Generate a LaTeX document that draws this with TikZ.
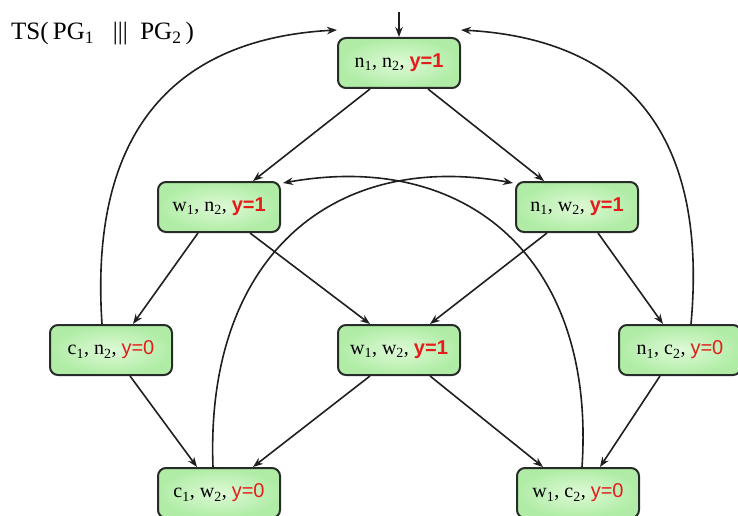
\documentclass[tikz,border=0pt]{standalone}
\usepackage{fontspec}
\setmainfont{Liberation Serif}
\newfontfamily\lblsans{Liberation Sans}
\usetikzlibrary{arrows.meta}
\definecolor{stategreen}{RGB}{176,236,166}
\definecolor{stategreenlight}{RGB}{222,250,214}
\definecolor{stateedge}{RGB}{40,44,40}
\definecolor{varred}{RGB}{228,28,28}
\newcommand{\yone}{{\lblsans\bfseries\color{varred}y=1}}
\newcommand{\yzero}{{\lblsans\color{varred}y=0}}
\newcommand{\ssub}[1]{\textsubscript{#1}}
\begin{document}
\begin{tikzpicture}[x=1pt,y=-1pt,
  state/.style={draw=stateedge, line width=2pt, rounded corners=8pt,
    inner color=stategreenlight, outer color=stategreen,
    minimum width=122pt, minimum height=50pt, inner sep=0pt,
    font=\fontsize{20}{24}\selectfont},
  trans/.style={-{Stealth[length=10pt,width=7.5pt]}, line width=1.6pt, black!88}]
\useasboundingbox (0,0) rectangle (738,516);

\node[anchor=base west, font=\fontsize{25}{30}\selectfont, inner sep=0pt] (title) at (11,40)
  {TS(\,PG\ssub{1} \ \ |||\ \ PG\ssub{2}\,)};

% states
\node[state] (n1n2) at (399,63)  {n\ssub{1}, n\ssub{2}, \yone};
\node[state] (w1n2) at (219,207) {w\ssub{1}, n\ssub{2}, \yone};
\node[state] (n1w2) at (577,207) {n\ssub{1}, w\ssub{2}, \yone};
\node[state] (c1n2) at (111,350) {c\ssub{1}, n\ssub{2}, \yzero};
\node[state] (w1w2) at (399,350) {w\ssub{1}, w\ssub{2}, \yone};
\node[state] (n1c2) at (680,350) {n\ssub{1}, c\ssub{2}, \yzero};
\node[state] (c1w2) at (219,493) {c\ssub{1}, w\ssub{2}, \yzero};
\node[state] (w1c2) at (578,493) {w\ssub{1}, c\ssub{2}, \yzero};

% initial state marker
\coordinate (init) at (399,12);
\draw[trans] (init) -- (n1n2.north);

% first steps
\draw[trans] ([xshift=-29pt]n1n2.south) -- ([xshift=34pt]w1n2.north);
\draw[trans] ([xshift=29pt]n1n2.south) -- ([xshift=-33pt]n1w2.north);

\draw[trans] ([xshift=-21pt]w1n2.south) -- ([xshift=22pt]c1n2.north);
\draw[trans] ([xshift=31pt]w1n2.south) -- ([xshift=-29pt]w1w2.north);
\draw[trans] ([xshift=-30pt]n1w2.south) -- ([xshift=31pt]w1w2.north);
\draw[trans] ([xshift=21pt]n1w2.south) -- ([xshift=-17pt]n1c2.north);

\draw[trans] ([xshift=19pt]c1n2.south) -- ([xshift=-22pt]c1w2.north);
\draw[trans] ([xshift=-29pt]w1w2.south) -- ([xshift=34pt]c1w2.north);
\draw[trans] ([xshift=31pt]w1w2.south) -- ([xshift=-35pt]w1c2.north);
\draw[trans] ([xshift=-20pt]n1c2.south) -- ([xshift=22pt]w1c2.north);

% leaving the critical sections
\draw[trans] ([xshift=-9pt]c1n2.north) .. controls (88,115) and (190,38) .. ([yshift=7pt]n1n2.north west);
\draw[trans] ([xshift=11pt]n1c2.north) .. controls (710,115) and (608,38) .. ([yshift=7pt]n1n2.north east);
\draw[trans] ([xshift=-6pt]c1w2.north) .. controls (205,260) and (330,150) .. ([xshift=-2pt,yshift=-2pt]n1w2.north west);
\draw[trans] ([xshift=4pt]w1c2.north) .. controls (596,260) and (468,150) .. ([xshift=2pt,yshift=-2pt]w1n2.north east);
\end{tikzpicture}
\end{document}
